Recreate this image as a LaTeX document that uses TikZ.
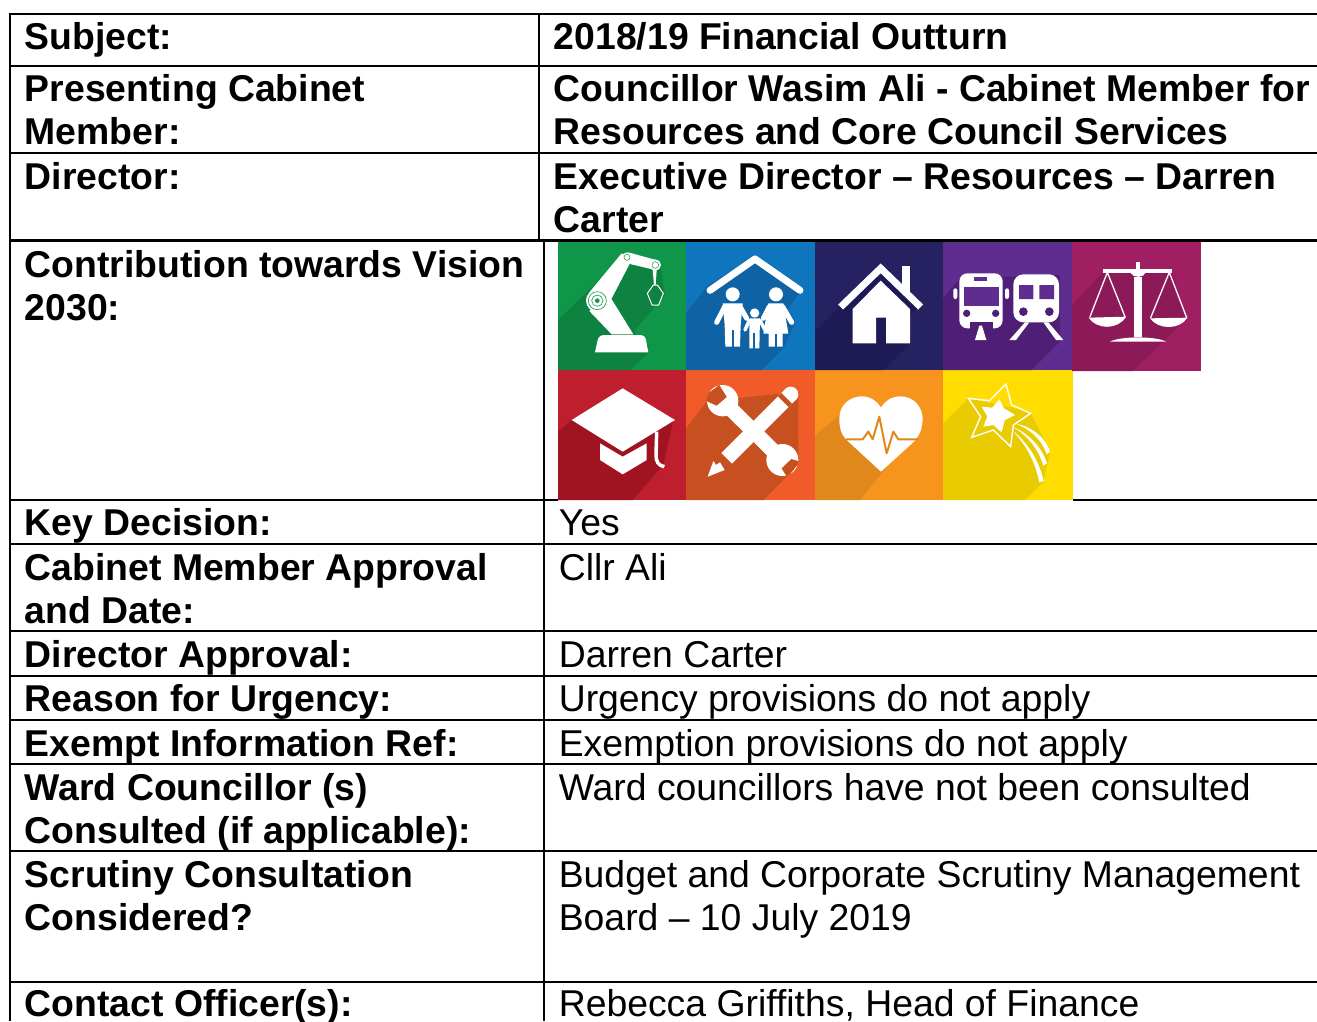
\documentclass[tikz,border=0pt]{standalone}
\usepackage{fontspec}
\setmainfont{Liberation Sans}
\definecolor{tgreen}{HTML}{0F9648}\definecolor{sgreen}{HTML}{0E8240}
\definecolor{tblue}{HTML}{0F75BC}\definecolor{sblue}{HTML}{0F62A4}
\definecolor{tnavy}{HTML}{262262}\definecolor{snavy}{HTML}{1E1A56}
\definecolor{tpurple}{HTML}{5F2C8F}\definecolor{spurple}{HTML}{4F1F78}
\definecolor{tmag}{HTML}{A01F63}\definecolor{smag}{HTML}{8D1A58}
\definecolor{tred}{HTML}{BE1E2D}\definecolor{sred}{HTML}{A01421}
\definecolor{torange}{HTML}{F15A29}\definecolor{sorange}{HTML}{C75020}
\definecolor{tamber}{HTML}{F7941E}\definecolor{samber}{HTML}{E0881C}
\definecolor{tyellow}{HTML}{FFDD00}\definecolor{syellow}{HTML}{E8CB00}
\tikzset{
 lab/.style={anchor=base west,inner sep=0pt,align=left,font=\fontsize{37.35}{43}\selectfont\bfseries},
 val/.style={anchor=base west,inner sep=0pt,align=left,font=\fontsize{37.35}{43}\selectfont},
 rule/.style={line width=2pt,black},
 thickrule/.style={line width=3.5pt,black},
 ic/.style={fill=white,draw=none},
 icl/.style={draw=white,line cap=round,line join=round}
}
\begin{document}
\begin{tikzpicture}[x=1pt,y=-1pt]
\useasboundingbox (0,0) rectangle (1317,1021);
\clip (0,0) rectangle (1317,1021);
\fill[white] (0,0) rectangle (1317,1021);
% tiles
\fill[tgreen] (558,242) rectangle (686,370);
\fill[tblue] (686,242) rectangle (815,370);
\fill[tnavy] (815,242) rectangle (943,370);
\fill[tpurple] (943,242) rectangle (1072,370);
\fill[tmag] (1072,242) rectangle (1201,371);
\fill[tred] (558,370) rectangle (686,500);
\fill[torange] (686,370) rectangle (815,500);
\fill[tamber] (815,370) rectangle (943,500);
\fill[tyellow] (943,370) rectangle (1073,500);
% icons, left group
\begin{scope}[shift={(550,235)},scale=0.33333]
\fill[sgreen] (24,255)--(230,55)--(330,85)--(345,180)--(250,290)--(295,330)--(295,352)--(240,405)--(24,405)--cycle;
\fill[sblue] (408,235)--(475,150)--(615,65)--(755,165)--(700,240)--(735,265)--(700,340)--(635,405)--(408,405)--cycle;
\fill[snavy] (795,290)--(870,215)--(990,85)--(1115,215)--(1080,240)--(1080,325)--(1000,405)--(795,405)--cycle;
\fill[sred] (24,590)--(70,550)--(370,555)--(340,690)--(248,795)--(24,795)--cycle;
\fill[sorange] (408,580)--(470,500)--(745,470)--(745,690)--(640,795)--(408,795)--cycle;
\fill[samber] (795,600)--(870,540)--(1120,560)--(930,795)--(795,795)--cycle;
% robot
\fill[ic] (135,352)--(143,315) .. controls (146,303) and (155,300) .. (165,300)--(268,300) .. controls (280,300) and (286,305) .. (288,315)--(295,352)--cycle;
\fill[ic] (118,228)--(172,172)--(250,298)--(185,298)--cycle;
\fill[ic] (118,172)--(215,55)--(245,75)--(172,215)--cycle;
\fill[ic] (235,52)--(318,75)--(315,105)--(232,85)--cycle;
\fill[ic] (142,197) circle (34);
\draw[tgreen,line width=.6pt] (142,197) circle (27) (142,197) circle (17);
\fill[tgreen] (142,197) circle (7);
\fill[ic] (231,67) circle (15);
\draw[tgreen,line width=.5pt] (231,67) circle (9);
\fill[ic] (316,90) circle (17);
\draw[tgreen,line width=.5pt] (316,90) circle (10);
\fill[ic] (308,105)--(320,105)--(317,150)--(312,150)--cycle;
\draw[icl,line width=1pt] (292,175)--(310,150)--(322,150)--(340,175)--(326,210)--(306,210)--cycle;
% family
\draw[icl,line width=7pt] (480,166)--(615,72)--(750,166);
\fill[ic] (548,178) circle (21) (678,178) circle (21) (614,234) circle (14);
\draw[icl,line width=5pt] (500,262)--(524,215) (590,250)--(570,215) (640,250)--(658,215) (725,262)--(698,215);
\fill[ic] (518,205)--(578,205)--(572,270)--(570,335)--(526,335)--(524,270)--cycle;
\fill[sblue] (545,285) rectangle (551,342);
\fill[ic] (655,205)--(700,205)--(715,296)--(698,296)--(698,335)--(656,335)--(656,296)--(640,296)--cycle;
\fill[sblue] (674,296) rectangle (680,342);
\draw[icl,line width=3.5pt] (585,285)--(598,256) (645,285)--(630,256);
\fill[ic] (598,250)--(630,250)--(628,340)--(598,340)--cycle;
\fill[sblue] (610,295) rectangle (615,342);
% house
\draw[icl,line width=7pt,line cap=butt,line join=miter] (872,216)--(992,100)--(1112,216);
\fill[ic] (1055,92) rectangle (1080,175);
\fill[ic] (908,325)--(908,222)--(992,137)--(1080,222)--(1080,325)--(1008,325)--(1008,248)--(978,248)--(978,325)--cycle;
% cap
\fill[ic] (65,555)--(218,460)--(375,555)--(218,650)--cycle;
\fill[ic] (150,625)--(218,665)--(290,625)--(290,675)--(218,718)--(150,675)--cycle;
\draw[icl,line width=3.5pt,line cap=butt] (320,590)--(318,660) .. controls (318,680) and (325,692) .. (343,695);
% tools
\draw[draw=white,line width=15pt] (518,497)--(697,675);
\fill[ic] (518,497) circle (47) (697,675) circle (48);
\begin{scope}
\clip (518,497) circle (48);
\fill[sorange] (470,478)--(508,450)--(530,486)--(500,512)--(462,495)--cycle;
\end{scope}
\begin{scope}
\clip (697,675) circle (49);
\fill[sorange] (750,680)--(724,672)--(695,700)--(712,728)--cycle;
\end{scope}
\draw[draw=white,line width=15pt] (722,478)--(530,670);
\fill[ic] (722,478) circle (23);
\fill[sorange] (694,474)--(726,506)--(716,516)--(684,484)--cycle;
\fill[sorange] (498,655)--(512,680)--(526,672)--(536,692)--(520,700)--(490,672)--cycle;
\fill[ic] (473,725)--(490,678)--(498,690)--(510,682)--(524,705)--cycle;
% heart
\fill[ic] (993,710)--(892,617) .. controls (870,595) and (868,575) .. (868,550) .. controls (868,510) and (900,484) .. (935,484) .. controls (960,484) and (980,497) .. (993,518) .. controls (1005,497) and (1025,484) .. (1052,484) .. controls (1090,484) and (1118,515) .. (1118,552) .. controls (1118,575) and (1112,595) .. (1095,617)--cycle;
\draw[samber,line width=2pt,line join=round] (888,613)--(938,613)--(955,590)--(968,613)--(988,545)--(1010,655)--(1030,590)--(1045,613)--(1105,613);
\end{scope}
% icons, right group
\begin{scope}[shift={(930,235)},scale=0.33333]
\fill[spurple] (39,190)--(90,130)--(390,120)--(390,320)--(305,405)--(39,405)--cycle;
\fill[smag] (426,210)--(520,110)--(725,105)--(770,250)--(610,408)--(426,408)--cycle;
\fill[syellow] (39,565)--(115,490)--(300,530)--(360,650)--(340,740)--(285,795)--(39,795)--cycle;
% bus
\fill[ic,rounded corners=8pt] (88,280)--(88,115)--(218,115)--(218,280)--cycle;
\fill[tpurple] (102,155) rectangle (208,212);
\fill[tpurple] (132,127) rectangle (172,137);
\fill[spurple] (110,235) circle (11) (197,235) circle (11);
\fill[spurple] (120,262) rectangle (188,290);
\fill[ic,rounded corners=2pt] (70,160) rectangle (82,192) (225,160) rectangle (237,192);
\fill[ic] (135,315)--(148,272)--(156,272)--(169,315)--cycle;
% train
\fill[ic,rounded corners=10pt] (250,262)--(250,118)--(387,118)--(387,262)--cycle;
\fill[tpurple] (267,150) rectangle (310,192) (328,150) rectangle (372,192);
\fill[spurple] (280,230) circle (13) (358,230) circle (13);
\fill[ic] (238,315)--(285,262)--(298,262)--(258,315)--cycle;
\fill[ic] (340,262)--(355,262)--(400,315)--(378,315)--cycle;
% scales
\fill[ic] (612,125) rectangle (637,305);
\fill[ic] (540,320) .. controls (570,303) and (680,303) .. (708,320)--cycle;
\fill[ic] (520,102)--(725,102)--(725,113)--(520,113)--cycle;
\fill[ic] (618,82) rectangle (630,105);
\fill[ic] (600,112) .. controls (610,130) and (640,130) .. (648,112)--cycle;
\draw[icl,line width=1.3pt] (532,112)--(480,245) (532,112)--(585,245) (718,112)--(662,248) (718,112)--(770,248);
\fill[ic] (476,248) .. controls (500,285) and (565,285) .. (588,245)--cycle;
\fill[ic] (660,250) .. controls (685,285) and (750,285) .. (772,248)--cycle;
% star
\draw[icl,line width=1.4pt,line cap=butt,line join=miter] (228,447)--(245,510)--(302,535)--(250,570)--(242,635)--(190,585)--(125,607)--(152,545)--(115,490)--(178,497)--cycle;
\fill[ic] (208,493)--(222,520)--(255,540)--(224,556)--(215,592)--(190,570)--(160,575)--(172,545)--(155,515)--(187,518)--cycle;
\fill[ic] (245,585) .. controls (290,630) and (315,680) .. (328,742)--(341,738) .. controls (325,670) and (290,620) .. (245,585)--cycle;
\fill[ic] (248,575) .. controls (290,600) and (325,640) .. (340,692)--(351,685) .. controls (335,635) and (295,595) .. (248,575)--cycle;
\fill[ic] (255,565) .. controls (295,580) and (335,610) .. (350,658)--(360,650) .. controls (345,605) and (305,575) .. (255,565)--cycle;
\end{scope}
% grid
\draw[rule] (9,14)--(1317,14);
\draw[rule] (9,66)--(1317,66);
\draw[rule] (9,153)--(1317,153);
\draw[thickrule] (9,240.25)--(1317,240.25);
\draw[rule] (9,500)--(558,500) (1073,500)--(1317,500);
\draw[rule] (9,544)--(1317,544);
\draw[rule] (9,631)--(1317,631);
\draw[rule] (9,676)--(1317,676);
\draw[rule] (9,720)--(1317,720);
\draw[rule] (9,764)--(1317,764);
\draw[rule] (9,851)--(1317,851);
\draw[rule] (9,982)--(1317,982);
\draw[rule] (10,13)--(10,1021);
\draw[rule] (539,13)--(539,240);
\draw[rule] (544,240)--(544,1021);
% text
\node[lab] (l1) at (24.6,49) {Subject:};
\node[lab] (l2) at (24.6,144) {Presenting Cabinet\\Member:};
\node[lab] (l3) at (24.6,189) {Director:};
\node[lab] (l4) at (24.6,320) {Contribution towards Vision\\2030:};
\node[lab] (l5) at (24.6,535) {Key Decision:};
\node[lab] (l6) at (24.6,623) {Cabinet Member Approval\\and Date:};
\node[lab] (l7) at (24.6,667) {Director Approval:};
\node[lab] (l8) at (24.6,711) {Reason for Urgency:};
\node[lab] (l9) at (24.6,756) {Exempt Information Ref:};
\node[lab] (l10) at (24.6,843) {Ward Councillor (s)\\Consulted (if applicable):};
\node[lab] (l11) at (24.6,930) {Scrutiny Consultation\\Considered?};
\node[lab] (l12) at (24.6,1016) {Contact Officer(s):};
\node[lab] (r1) at (553.6,49) {2018/19 Financial Outturn};
\node[lab] (r2) at (553.6,144) {Councillor Wasim Ali - Cabinet Member for\\Resources and Core Council Services};
\node[lab] (r3) at (553.6,232) {Executive Director – Resources – Darren\\Carter};
\node[val] (r5) at (558.6,535) {Yes};
\node[val] (r6) at (558.6,580) {Cllr Ali};
\node[val] (r7) at (558.6,667) {Darren Carter};
\node[val] (r8) at (558.6,711) {Urgency provisions do not apply};
\node[val] (r9) at (558.6,756) {Exemption provisions do not apply};
\node[val] (r10) at (558.6,800) {Ward councillors have not been consulted};
\node[val] (r11) at (558.6,930) {Budget and Corporate Scrutiny Management\\Board – 10 July 2019};
\node[val] (r12) at (558.6,1016) {Rebecca Griffiths, Head of Finance};
\end{tikzpicture}
\end{document}
